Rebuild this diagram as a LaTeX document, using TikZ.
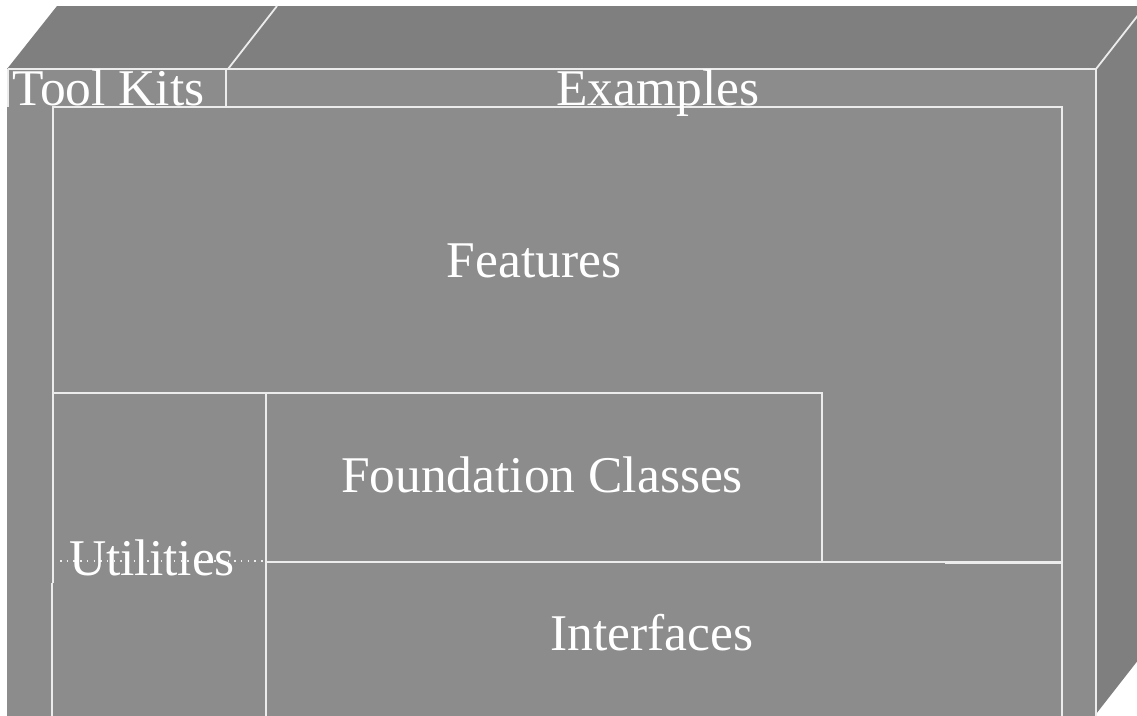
\documentclass[tikz,border=0pt]{standalone}
\usepackage{fontspec}
\setmainfont{Liberation Serif}
\definecolor{frontgray}{RGB}{140,140,140}
\definecolor{topgray}{RGB}{127,127,127}
\definecolor{edgewhite}{RGB}{236,236,236}
\tikzset{
  edge/.style={draw=edgewhite, line width=1.8pt},
  label/.style={text=white, font=\fontsize{51.5}{60}\selectfont, inner sep=0pt, anchor=base},
}
\begin{document}
\begin{tikzpicture}[x=1pt,y=-1pt]
\useasboundingbox (0,0) rectangle (1137,715);
\begin{scope}
\clip (0,0) rectangle (1137,715);
% faces
\fill[frontgray] (7,69) rectangle (1096,716);
\fill[topgray] (7,69) -- (57,6) -- (1150,6) -- (1096,69) -- cycle;
\fill[topgray] (1096,69) -- (1146,6) -- (1146,650) -- (1096,714) -- cycle;
% 3D edges
\draw[edge] (1096,69) -- (1146,5);
\draw[edge] (228,69) -- (277,6);
\draw[edge] (8,69) -- (1096,69) -- (1096,716);
% Tool Kits box
\draw[edge] (8,69) -- (8,107);
\draw[edge] (226,69) -- (226,107) -- (53,107);
% inner frame
\draw[edge] (53,583) -- (53,107) -- (1062,107) -- (1062,716);
\draw[edge] (52,583) -- (52,716);
% inner partitions
\draw[edge] (53,393) -- (822,393) -- (822,562);
\draw[edge] (266,393) -- (266,716);
\draw[edge] (266,562) -- (1062,562);
\draw[draw=edgewhite, line width=3pt] (945,562) -- (1062,562);
\draw[edgewhite, line width=1.5pt, dash pattern=on 1.5pt off 5.2pt] (60,561) -- (266,561);
\end{scope}
% labels
\node[label, anchor=base west] (toolkits) at (12,105) {Tool Kits};
\node[label] (examples) at (658,105) {Examples};
\node[label] (features) at (534,277) {Features};
\node[label] (foundation) at (542,492) {Foundation Classes};
\node[label] (utilities) at (152,575) {Utilities};
\node[label] (interfaces) at (652,650) {Interfaces};
\end{tikzpicture}
\end{document}
